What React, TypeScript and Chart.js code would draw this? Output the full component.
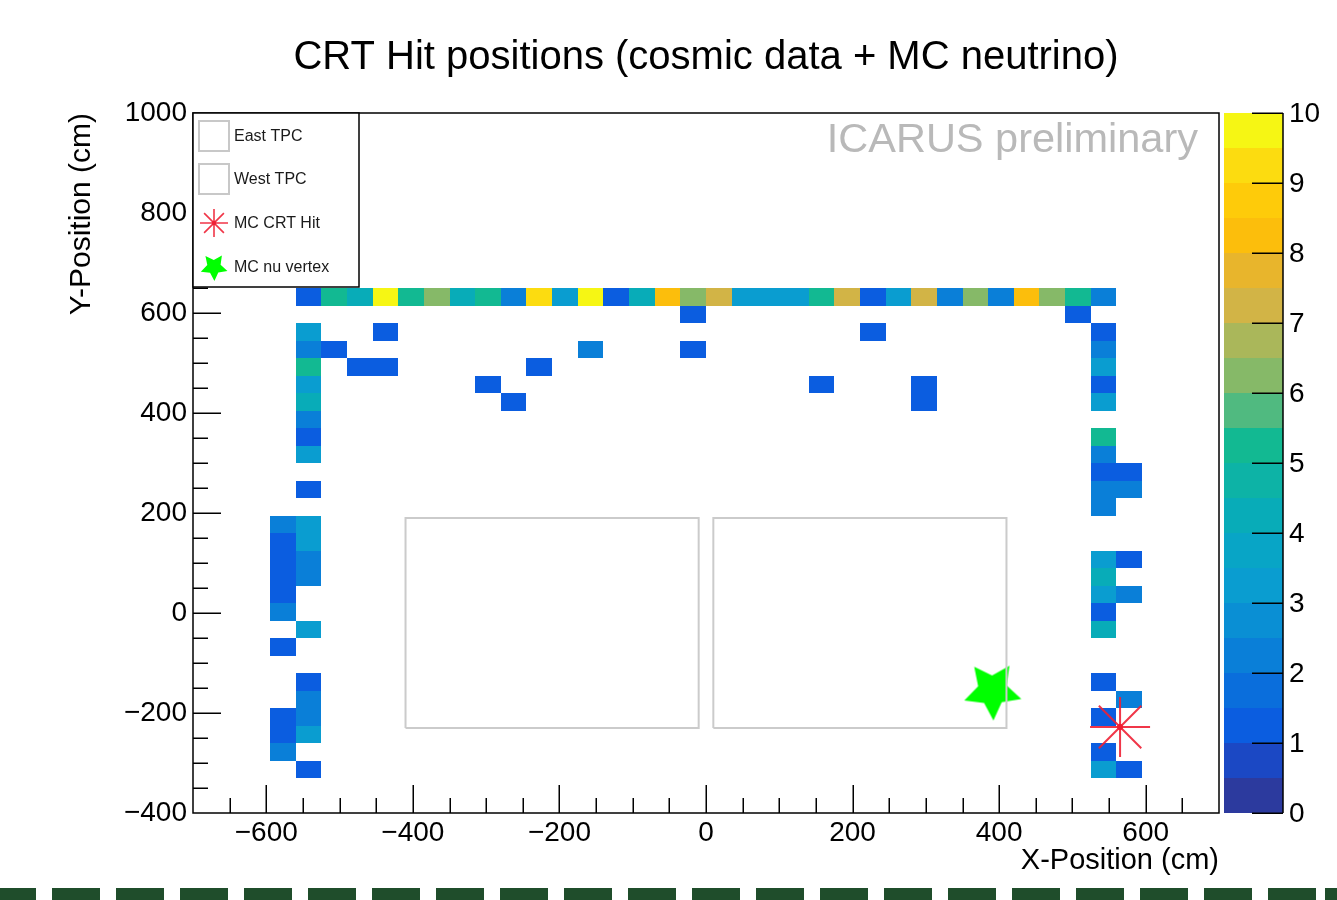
import React, { useEffect, useRef } from "react";
import { Chart, registerables } from "chart.js";

Chart.register(...registerables);

const FONT = "'Liberation Sans', Arial, Helvetica, sans-serif";

// ---------- axes ----------
const xRange = [-700, 700];
const yRange = [-400, 1000];
const zRange = [0, 10];
const xTickValues = [-600, -400, -200, 0, 200, 400, 600];
const yTickValues = [-400, -200, 0, 200, 400, 600, 800, 1000];
const zTickValues = [0, 1, 2, 3, 4, 5, 6, 7, 8, 9, 10];
const binSize = 35; // cm, 40 x 40 bins

// ---------- CRT hit histogram (bin centres in cm, counts) ----------
const hitRowsY = [
  632.5, 597.5, 562.5, 527.5, 492.5, 457.5, 422.5, 387.5, 352.5, 317.5, 282.5, 247.5, 212.5,
  177.5, 142.5, 107.5, 72.5, 37.5, 2.5, -32.5, -67.5, -137.5, -172.5, -207.5, -242.5, -277.5, -312.5,
];
const hitRowsX = [
  [-542.5, -507.5, -472.5, -437.5, -402.5, -367.5, -332.5, -297.5, -262.5, -227.5, -192.5, -157.5, -122.5, -87.5, -52.5, -17.5,
    17.5, 52.5, 87.5, 122.5, 157.5, 192.5, 227.5, 262.5, 297.5, 332.5, 367.5, 402.5, 437.5, 472.5, 507.5, 542.5],
  [-17.5, 507.5],
  [-542.5, -437.5, 227.5, 542.5],
  [-542.5, -507.5, -157.5, -17.5, 542.5],
  [-542.5, -472.5, -437.5, -227.5, 542.5],
  [-542.5, -297.5, 157.5, 297.5, 542.5],
  [-542.5, -262.5, 297.5, 542.5],
  [-542.5],
  [-542.5, 542.5],
  [-542.5, 542.5],
  [542.5, 577.5],
  [-542.5, 542.5, 577.5],
  [542.5],
  [-577.5, -542.5],
  [-577.5, -542.5],
  [-577.5, -542.5, 542.5, 577.5],
  [-577.5, -542.5, 542.5],
  [-577.5, 542.5, 577.5],
  [-577.5, 542.5],
  [-542.5, 542.5],
  [-577.5],
  [-542.5, 542.5],
  [-542.5, 577.5],
  [-577.5, -542.5, 542.5],
  [-577.5, -542.5],
  [-577.5, 542.5],
  [-542.5, 542.5, 577.5],
];
const hitRowsCount = [
  [1, 5, 4, 10, 5, 6, 4, 5, 2, 9, 3, 10, 1, 4, 8, 6, 7, 3, 3, 3, 5, 7, 1, 3, 7, 2, 6, 2, 8, 6, 5, 2],
  [1, 1],
  [3, 1, 1, 1],
  [2, 1, 2, 1, 2],
  [5, 1, 1, 1, 3],
  [3, 1, 1, 1, 1],
  [4, 1, 1, 3],
  [2],
  [1, 5],
  [3, 2],
  [1, 1],
  [1, 2, 2],
  [2],
  [2, 3],
  [1, 3],
  [1, 2, 3, 1],
  [1, 2, 4],
  [1, 3, 2],
  [2, 1],
  [3, 4],
  [1],
  [1, 1],
  [2, 2],
  [1, 2, 1],
  [1, 3],
  [2, 1],
  [1, 3, 1],
];

// ---------- TPC outlines ----------
const eastTpcX = [-410, -10, -10, -410, -410];
const eastTpcY = [-230, -230, 190, 190, -230];
const westTpcX = [10, 410, 410, 10, 10];
const westTpcY = [-230, -230, 190, 190, -230];

// ---------- MC markers ----------
const mcCrtHitX = [565];
const mcCrtHitY = [-228];
const mcNuVertexX = [391];
const mcNuVertexY = [-155];

// ---------- palette (20 contour bands over 0..10) ----------
const paletteColors = [
  "#2c3a9e", "#1b48c4", "#0b5de0", "#0a6edc", "#0a7fd8", "#0a8fd4", "#0a9dd0", "#08a5c6", "#08acb8", "#0db3a6",
  "#12b992", "#50ba80", "#86b968", "#aab75a", "#d2b446", "#e8b52c", "#fcbe0c", "#fecb0a", "#fcdc10", "#f6f614",
];

const legendLabels = ["East TPC", "West TPC", "MC CRT Hit", "MC nu vertex"];

const CRT_RED = "rgba(238,32,52,0.9)";
const NU_GREEN = "#00ff00";

function colorFor(v: number) {
  const n = paletteColors.length;
  const band = Math.min(n - 1, Math.max(0, Math.floor((v - zRange[0]) / ((zRange[1] - zRange[0]) / n) + 1e-9)));
  return paletteColors[band];
}

function starPath(ctx: CanvasRenderingContext2D, cx: number, cy: number, R: number, r: number) {
  const start = (55.7 * Math.PI) / 180;
  ctx.beginPath();
  for (let i = 0; i < 10; i++) {
    const a = start + (i * Math.PI) / 5;
    const rr = i % 2 === 0 ? R : r;
    const px = cx + rr * Math.cos(a);
    const py = cy - rr * Math.sin(a);
    if (i === 0) ctx.moveTo(px, py);
    else ctx.lineTo(px, py);
  }
  ctx.closePath();
}

function asteriskPath(ctx: CanvasRenderingContext2D, cx: number, cy: number, R: number) {
  ctx.beginPath();
  for (let i = 0; i < 4; i++) {
    const a = (i * Math.PI) / 4;
    ctx.moveTo(cx - R * Math.cos(a), cy - R * Math.sin(a));
    ctx.lineTo(cx + R * Math.cos(a), cy + R * Math.sin(a));
  }
}

const fmt = (v: number) => String(v).replace("-", "\u2212");

const th2Plugin = {
  id: "th2colz",
  beforeDatasetsDraw(chart: any) {
    const { ctx, chartArea, scales } = chart;
    const xs = scales.x;
    const ys = scales.y;
    ctx.save();
    ctx.beginPath();
    ctx.rect(chartArea.left, chartArea.top, chartArea.width, chartArea.height);
    ctx.clip();
    for (let r = 0; r < hitRowsY.length; r++) {
      const cy = hitRowsY[r];
      for (let i = 0; i < hitRowsX[r].length; i++) {
        const cx = hitRowsX[r][i];
        const x0 = Math.round(xs.getPixelForValue(cx - binSize / 2));
        const x1 = Math.round(xs.getPixelForValue(cx + binSize / 2));
        const y0 = Math.round(ys.getPixelForValue(cy + binSize / 2));
        const y1 = Math.round(ys.getPixelForValue(cy - binSize / 2));
        ctx.fillStyle = colorFor(hitRowsCount[r][i]);
        ctx.fillRect(x0, y0, x1 - x0, y1 - y0);
      }
    }
    ctx.restore();
  },
  afterDraw(chart: any) {
    const { ctx, chartArea, scales } = chart;
    const xs = scales.x;
    const ys = scales.y;
    const zs = scales.z;
    const { left, right, top, bottom } = chartArea;
    ctx.save();

    // watermark
    ctx.font = `41.5px ${FONT}`;
    ctx.fillStyle = "#b9b9b9";
    ctx.textAlign = "right";
    ctx.textBaseline = "middle";
    ctx.fillText("ICARUS preliminary", right - 21, top + 28);

    // ticks (inside, ROOT style)
    ctx.strokeStyle = "#000";
    ctx.lineWidth = 1.5;
    ctx.beginPath();
    for (let v = xRange[0] + 50; v < xRange[1]; v += 50) {
      const px = Math.round(xs.getPixelForValue(v)) + 0.25;
      const len = v % 200 === 0 ? 28 : 15;
      ctx.moveTo(px, bottom);
      ctx.lineTo(px, bottom - len);
    }
    for (let v = yRange[0] + 50; v < yRange[1]; v += 50) {
      const py = Math.round(ys.getPixelForValue(v)) + 0.25;
      const len = v % 200 === 0 ? 28 : 15;
      ctx.moveTo(left, py);
      ctx.lineTo(left + len, py);
    }
    ctx.stroke();

    // frame
    ctx.strokeRect(left, top, right - left, bottom - top);

    // legend box
    const lx0 = left, ly0 = top, lx1 = left + 166, ly1 = top + 174;
    ctx.fillStyle = "#fff";
    ctx.fillRect(lx0, ly0, lx1 - lx0, ly1 - ly0);
    ctx.strokeStyle = "#000";
    ctx.lineWidth = 1.5;
    ctx.strokeRect(lx0, ly0, lx1 - lx0, ly1 - ly0);
    const rowY = [ly0 + 23, ly0 + 66, ly0 + 110, ly0 + 154];
    ctx.strokeStyle = "#c8c8c8";
    ctx.lineWidth = 2;
    ctx.strokeRect(lx0 + 6, rowY[0] - 15, 30, 30);
    ctx.strokeRect(lx0 + 6, rowY[1] - 15, 30, 30);
    ctx.strokeStyle = CRT_RED;
    ctx.lineWidth = 1.6;
    asteriskPath(ctx, lx0 + 21, rowY[2], 14);
    ctx.stroke();
    ctx.fillStyle = CRT_RED;
    ctx.beginPath();
    ctx.arc(lx0 + 21, rowY[2], 2.2, 0, Math.PI * 2);
    ctx.fill();
    ctx.fillStyle = NU_GREEN;
    starPath(ctx, lx0 + 21, rowY[3], 14, 7);
    ctx.fill();
    ctx.font = `16px ${FONT}`;
    ctx.fillStyle = "#1a1a1a";
    ctx.textAlign = "left";
    ctx.textBaseline = "middle";
    legendLabels.forEach((t, i) => ctx.fillText(t, lx0 + 41, rowY[i] + 1));

    // colour bar
    const cbL = right + 5, cbR = right + 64;
    const n = paletteColors.length;
    const dz = (zRange[1] - zRange[0]) / n;
    for (let i = 0; i < n; i++) {
      const yA = Math.round(zs.getPixelForValue(zRange[0] + i * dz));
      const yB = Math.round(zs.getPixelForValue(zRange[0] + (i + 1) * dz));
      ctx.fillStyle = paletteColors[i];
      ctx.fillRect(cbL, yB, cbR - cbL, yA - yB);
    }
    ctx.strokeStyle = "#000";
    ctx.lineWidth = 1.5;
    ctx.beginPath();
    ctx.moveTo(cbR, zs.getPixelForValue(zRange[1]));
    ctx.lineTo(cbR, zs.getPixelForValue(zRange[0]));
    zTickValues.forEach((v) => {
      const py = Math.round(zs.getPixelForValue(v)) + 0.25;
      ctx.moveTo(cbR - 31, py);
      ctx.lineTo(cbR, py);
    });
    ctx.stroke();
    ctx.font = `28px ${FONT}`;
    ctx.fillStyle = "#000";
    ctx.textAlign = "left";
    ctx.textBaseline = "middle";
    zTickValues.forEach((v) => ctx.fillText(String(v), cbR + 6, zs.getPixelForValue(v) + 1));

    ctx.restore();
  },
};

function makeStarCanvas(R: number) {
  const c = document.createElement("canvas");
  const s = Math.ceil(2 * R + 6);
  c.width = s;
  c.height = s;
  const g = c.getContext("2d")!;
  g.fillStyle = NU_GREEN;
  starPath(g, s / 2, s / 2, R, R * 0.5);
  g.fill();
  return c;
}

export default function App() {
  const canvasRef = useRef<HTMLCanvasElement | null>(null);

  useEffect(() => {
    if (!canvasRef.current) return;
    const toPts = (xa: number[], ya: number[]) => xa.map((x, i) => ({ x, y: ya[i] }));
    const starImg = makeStarCanvas(30);

    const chart = new Chart(canvasRef.current, {
      type: "scatter",
      data: {
        datasets: [
          {
            label: "East TPC",
            data: toPts(eastTpcX, eastTpcY),
            showLine: true,
            borderColor: "#cbcbcb",
            borderWidth: 2,
            pointRadius: 0,
            fill: false,
          },
          {
            label: "West TPC",
            data: toPts(westTpcX, westTpcY),
            showLine: true,
            borderColor: "#cbcbcb",
            borderWidth: 2,
            pointRadius: 0,
            fill: false,
          },
          {
            label: "MC CRT Hit",
            data: toPts(mcCrtHitX, mcCrtHitY),
            pointStyle: "star",
            pointRadius: 30,
            pointBorderColor: CRT_RED,
            pointBorderWidth: 2,
            pointBackgroundColor: CRT_RED,
          },
          {
            label: "MC CRT Hit centre",
            data: toPts(mcCrtHitX, mcCrtHitY),
            pointStyle: "circle",
            pointRadius: 3,
            pointBorderWidth: 0,
            pointBackgroundColor: "#ff1020",
          },
          {
            label: "MC nu vertex",
            data: toPts(mcNuVertexX, mcNuVertexY),
            pointStyle: starImg as any,
            pointRadius: 30,
          },
        ],
      },
      options: {
        animation: false,
        responsive: false,
        devicePixelRatio: 1,
        events: [],
        layout: { padding: { left: 0, top: 0, right: 118, bottom: 0 } },
        plugins: {
          legend: { display: false },
          tooltip: { enabled: false },
          title: {
            display: true,
            text: "CRT Hit positions (cosmic data + MC neutrino)",
            fullSize: false,
            color: "#000",
            font: { family: FONT, size: 40, weight: "normal", lineHeight: 1.2 },
            padding: { top: 34, bottom: 31 },
          },
        },
        scales: {
          x: {
            type: "linear",
            position: "bottom",
            min: xRange[0],
            max: xRange[1],
            grid: { display: false, drawTicks: false },
            border: { display: false },
            afterBuildTicks: (s: any) => {
              s.ticks = xTickValues.map((v) => ({ value: v }));
            },
            afterFit: (s: any) => {
              s.height = 87;
            },
            ticks: {
              color: "#000",
              padding: 3,
              font: { family: FONT, size: 28 },
              autoSkip: false,
              maxRotation: 0,
              callback: (v: any) => fmt(Number(v)),
            },
            title: {
              display: true,
              text: "X-Position (cm)",
              align: "end",
              color: "#000",
              font: { family: FONT, size: 29, lineHeight: 1.2 },
              padding: { top: 0, bottom: 22 },
            },
          },
          y: {
            type: "linear",
            position: "left",
            min: yRange[0],
            max: yRange[1],
            grid: { display: false, drawTicks: false },
            border: { display: false },
            afterBuildTicks: (s: any) => {
              s.ticks = yTickValues.map((v) => ({ value: v }));
            },
            afterFit: (s: any) => {
              s.width = 193;
            },
            ticks: {
              color: "#000",
              padding: 6,
              font: { family: FONT, size: 28 },
              autoSkip: false,
              callback: (v: any) => fmt(Number(v)),
            },
            title: {
              display: true,
              text: "Y-Position (cm)",
              align: "end",
              color: "#000",
              font: { family: FONT, size: 30, lineHeight: 1.2 },
              padding: { top: 64, bottom: 0 },
            },
          },
          z: {
            type: "linear",
            position: "right",
            display: false,
            min: zRange[0],
            max: zRange[1],
          },
        },
      } as any,
      plugins: [th2Plugin],
    });
    return () => chart.destroy();
  }, []);

  return (
    <div
      style={{
        position: "fixed",
        left: 0,
        top: 0,
        width: 1337,
        height: 900,
        background: "#fff",
        overflow: "hidden",
      }}
    >
      <canvas ref={canvasRef} width={1337} height={900} style={{ width: 1337, height: 900, display: "block" }} />
      <div
        style={{
          position: "absolute",
          left: 0,
          top: 888,
          width: 1337,
          height: 12,
          backgroundImage: "repeating-linear-gradient(to right, #1f4d2b 0px, #1f4d2b 48px, transparent 48px, transparent 64px)",
          backgroundPosition: "-12px 0",
        }}
      />
    </div>
  );
}
